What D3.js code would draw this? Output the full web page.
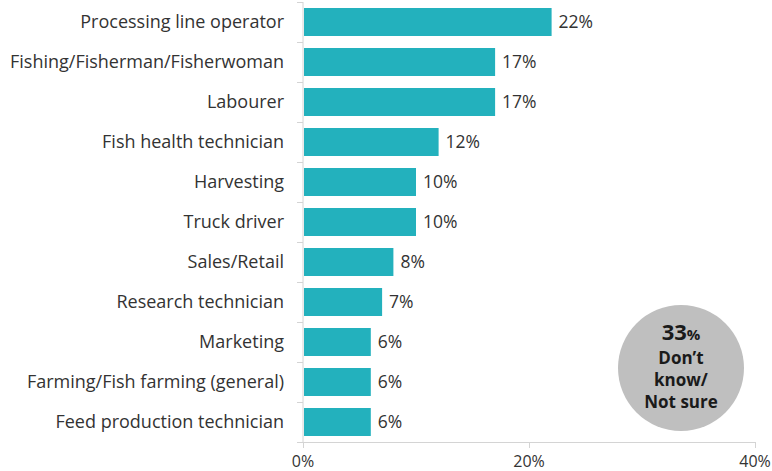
<!DOCTYPE html>
<meta charset="utf-8">
<head>
  <title>Occupations</title>
</head>

<style>
body {
  margin: 0;
  background: #fff;
  font-family: "Open Sans", Lato, sans-serif;
}
</style>

<body>
  <div id="content">
    <svg width="772" height="471"></svg>
  </div>

  <script src="https://cdnjs.cloudflare.com/ajax/libs/d3/7.8.5/d3.min.js"></script>

  <script>
var categories = [
  'Processing line operator',
  'Fishing/Fisherman/Fisherwoman',
  'Labourer',
  'Fish health technician',
  'Harvesting',
  'Truck driver',
  'Sales/Retail',
  'Research technician',
  'Marketing',
  'Farming/Fish farming (general)',
  'Feed production technician'
];
var values = [22, 17, 17, 12, 10, 10, 8, 7, 6, 6, 6];
var xTicks = [0, 20, 40];
var dontKnow = 33;
var dontKnowLines = ['Don\u2019t', 'know/', 'Not sure'];

var svg = d3.select('#content svg');

var x = d3.scaleLinear().domain([0, 40]).range([303, 755]);
var y = d3.scaleBand().domain(categories).range([2, 442]).paddingInner(0.3).paddingOuter(0.15);

var axisColor = '#d4d4d4';

// y axis line + separator ticks
svg.append('line')
  .attr('x1', x(0)).attr('x2', x(0))
  .attr('y1', 2).attr('y2', 442)
  .attr('stroke', axisColor);

var sepY = d3.range(categories.length + 1).map(function(i) { return 2 + i * y.step(); });
svg.selectAll('.ysep')
  .data(sepY)
  .enter().append('line')
  .attr('x1', x(0) - 6).attr('x2', x(0))
  .attr('y1', function(d) { return d + 0.5; })
  .attr('y2', function(d) { return d + 0.5; })
  .attr('stroke', axisColor);

// x axis
svg.append('line')
  .attr('x1', x(0)).attr('x2', x(40))
  .attr('y1', 442.5).attr('y2', 442.5)
  .attr('stroke', axisColor);

svg.selectAll('.xtick')
  .data(xTicks)
  .enter().append('line')
  .attr('x1', function(d) { return Math.round(x(d)) + 0.5; })
  .attr('x2', function(d) { return Math.round(x(d)) + 0.5; })
  .attr('y1', 442).attr('y2', 448)
  .attr('stroke', axisColor);

svg.selectAll('.xlabel')
  .data(xTicks)
  .enter().append('text')
  .attr('x', function(d) { return x(d); })
  .attr('y', 467)
  .attr('text-anchor', 'middle')
  .attr('font-size', 16)
  .attr('fill', '#333')
  .text(function(d) { return d + '%'; });

// bars
svg.selectAll('.bar')
  .data(values)
  .enter().append('rect')
  .attr('x', x(0) + 1)
  .attr('y', function(d, i) { return y(categories[i]); })
  .attr('width', function(d) { return x(d) - x(0) - 1; })
  .attr('height', y.bandwidth())
  .attr('fill', '#23b1bd');

// value labels
svg.selectAll('.val')
  .data(values)
  .enter().append('text')
  .attr('x', function(d) { return x(d) + 7; })
  .attr('y', function(d, i) { return y(categories[i]) + y.bandwidth() / 2; })
  .attr('dy', '0.36em')
  .attr('font-size', 17.5)
  .attr('fill', '#333')
  .text(function(d) { return d + '%'; });

// category labels
svg.selectAll('.cat')
  .data(categories)
  .enter().append('text')
  .attr('x', 284)
  .attr('y', function(d) { return y(d) + y.bandwidth() / 2; })
  .attr('dy', '0.36em')
  .attr('text-anchor', 'end')
  .attr('font-size', 18)
  .attr('fill', '#333')
  .text(function(d) { return d; });

// don't know bubble
var cx = 681, cy = 368;
svg.append('circle')
  .attr('cx', cx).attr('cy', cy).attr('r', 63)
  .attr('fill', '#bfbfbf');

var big = svg.append('text')
  .attr('x', cx).attr('y', 340)
  .attr('text-anchor', 'middle')
  .attr('font-weight', 'bold')
  .attr('fill', '#1a1a1a');
big.append('tspan').attr('font-size', 22).text(dontKnow);
big.append('tspan').attr('font-size', 15).text('%');

svg.selectAll('.dk')
  .data(dontKnowLines)
  .enter().append('text')
  .attr('x', cx)
  .attr('y', function(d, i) { return 364 + i * 22; })
  .attr('text-anchor', 'middle')
  .attr('font-size', 17)
  .attr('font-weight', 'bold')
  .attr('fill', '#1a1a1a')
  .text(function(d) { return d; });
  </script>
</body>
</html>
